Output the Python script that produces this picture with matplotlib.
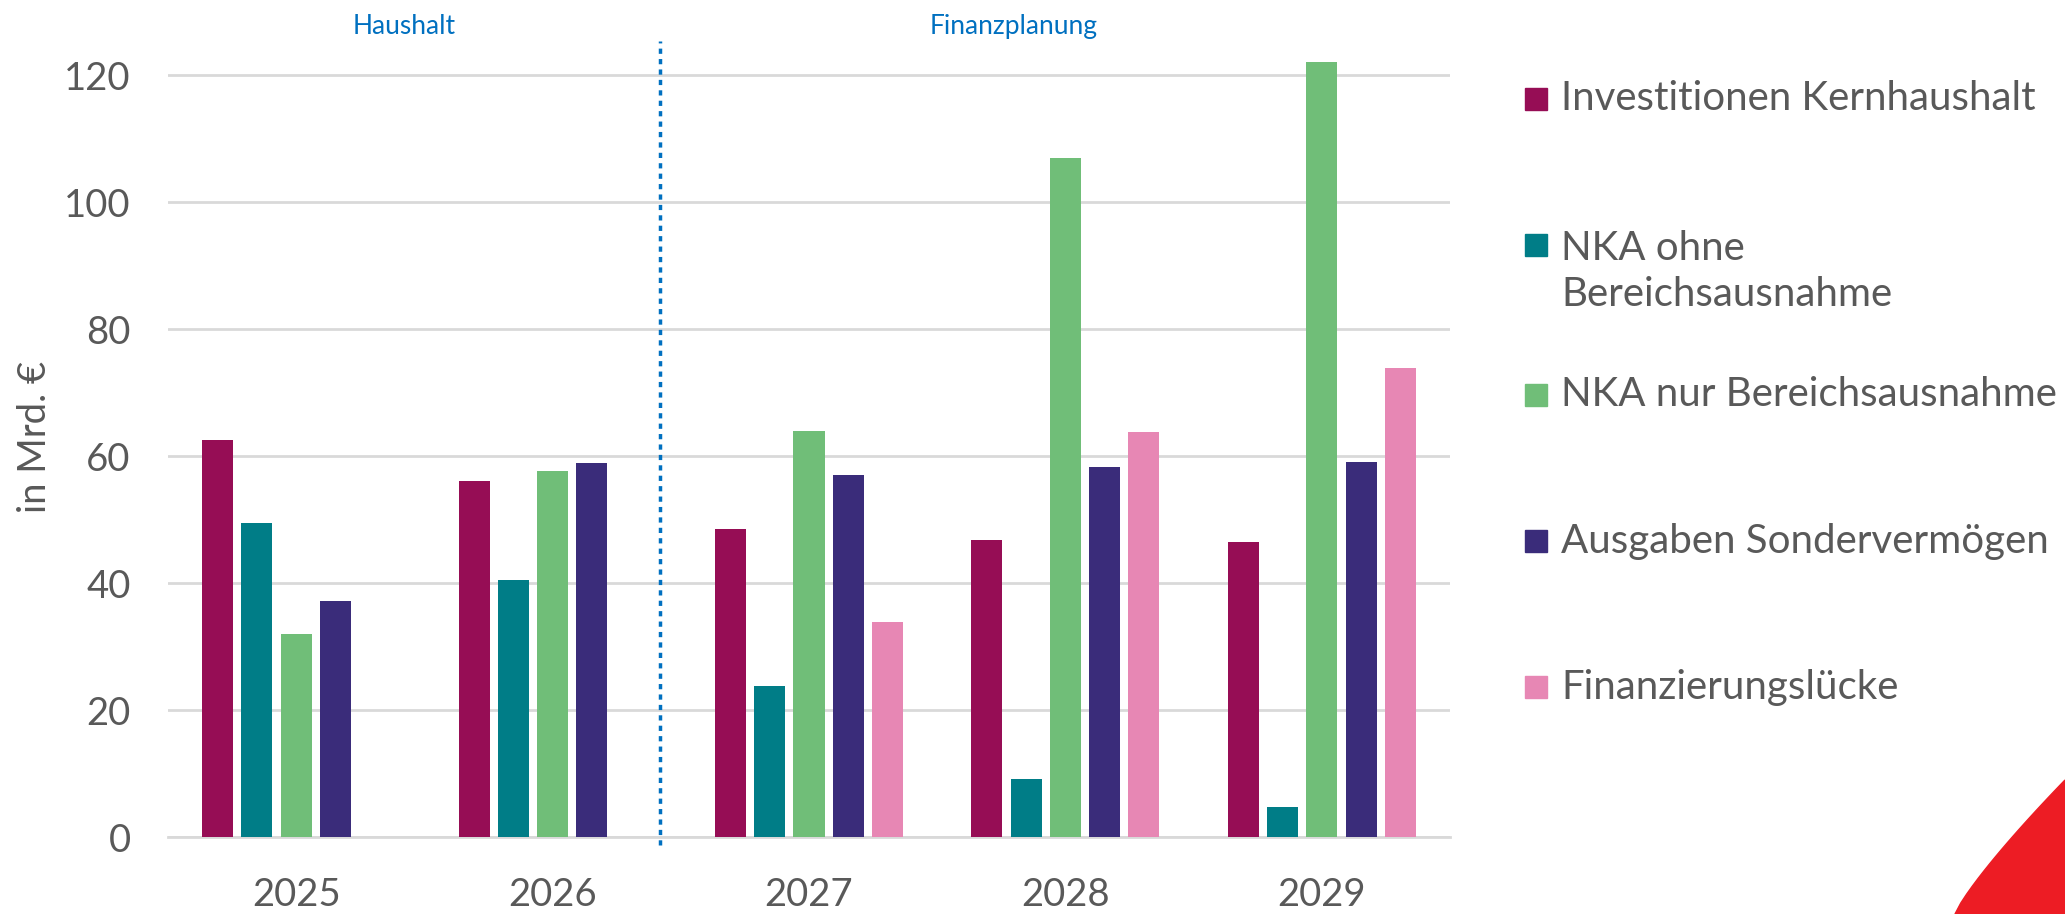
import matplotlib
matplotlib.use("Agg")
import matplotlib.pyplot as plt
from matplotlib.patches import Rectangle, Polygon
import numpy as np

years = ["2025", "2026", "2027", "2028", "2029"]
series_names = ["Investitionen Kernhaushalt",
                "NKA ohne\nBereichsausnahme",
                "NKA nur Bereichsausnahme",
                "Ausgaben Sondervermögen",
                "Finanzierungslücke"]
kernhaushalt = [62.6, 56.0, 48.5, 46.8, 46.4]
nka_ohne = [49.5, 40.4, 23.8, 9.2, 4.7]
nka_nur = [32.0, 57.6, 64.0, 107.0, 122.0]
sondervermoegen = [37.1, 58.9, 57.0, 58.3, 59.1]
finanzierungsluecke = [np.nan, np.nan, 33.9, 63.8, 73.9]
yticks = [0, 20, 40, 60, 80, 100, 120]

colors = ["#960D55", "#007D87", "#70BE78", "#3A2C7A", "#E787B4"]
TEXT = "#595959"
BLUE = "#0070C0"
W, H = 2065, 914

plt.rcParams["font.family"] = ["Lato", "DejaVu Sans"]

fig = plt.figure(figsize=(W / 100, H / 100), dpi=100)
ax = fig.add_axes([168 / W, 1 - 837 / H, (1450 - 168) / W, (837 - 37) / H])

all_series = [kernhaushalt, nka_ohne, nka_nur, sondervermoegen, finanzierungsluecke]
x = np.arange(len(years))
slot = 0.153
width = 0.121
for i, (vals, col) in enumerate(zip(all_series, colors)):
    ax.bar(x + (i - 2) * slot, vals, width=width, color=col, zorder=3)

ax.set_xlim(-0.5, 4.5)
ax.set_ylim(0, 126)
ax.set_yticks(yticks)
ax.set_xticks(x)
ax.set_xticklabels(years)
ax.grid(axis="y", color="#D9D9D9", linewidth=2, zorder=0)
for s in ["top", "right", "left"]:
    ax.spines[s].set_visible(False)
ax.spines["bottom"].set_color("#D9D9D9")
ax.spines["bottom"].set_linewidth(2)
ax.tick_params(axis="both", length=0, labelsize=27.5, colors=TEXT)
ax.tick_params(axis="x", pad=29)
ax.tick_params(axis="y", pad=27)
ax.set_ylabel("in Mrd. €", fontsize=27.5, color=TEXT, labelpad=8)

# separator between Haushalt and Finanzplanung
ax.plot([1.42, 1.42], [-1.3, 125.4], color=BLUE, linestyle=(0, (1.5, 1.5)),
        linewidth=2.5, clip_on=False, zorder=4)
ax.text(0.42, 0.998, "Haushalt", transform=ax.get_xaxis_transform(),
        ha="center", va="bottom", fontsize=19, color=BLUE)
ax.text(2.8, 0.998, "Finanzplanung", transform=ax.get_xaxis_transform(),
        ha="center", va="bottom", fontsize=19, color=BLUE)

# legend on the right, marker aligned with first text line
legend_rows = [99, 245, 395, 541, 687]
line_gap = 53
for name, col, py in zip(series_names, colors, legend_rows):
    fig.add_artist(Rectangle((1525 / W, 1 - (py + 11) / H), 22 / W, 22 / H,
                             transform=fig.transFigure, color=col))
    n = name.count("\n") + 1
    cy = py + (n - 1) * line_gap / 2
    fig.text(1561 / W, 1 - cy / H, name, ha="left", va="center",
             fontsize=29, color=TEXT, linespacing=1.32)

# red corner decoration
t = np.linspace(0, 1, 20)
cx = 1955 + (2065 - 1955) * t
cyy = 914 - (914 - 780) * (t ** 0.85)
pts = [(px / W, 1 - py / H) for px, py in zip(cx, cyy)] + [(1.0, 0.0)]
fig.add_artist(Polygon(pts, closed=True, transform=fig.transFigure,
                       color="#ED1C24"))

fig.savefig("out.png", dpi=100)
